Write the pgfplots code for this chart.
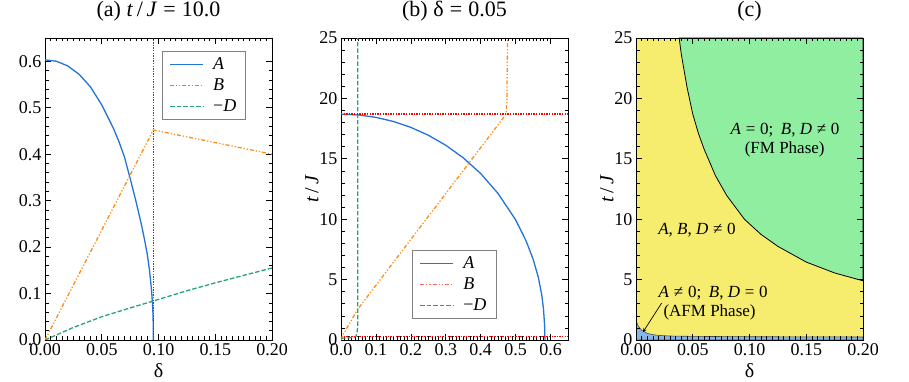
\documentclass[border=0pt]{standalone}
\usepackage{fontspec}
\setmainfont{Liberation Serif}
\usepackage{pgfplots}
\pgfplotsset{compat=1.18}

\definecolor{cA}{RGB}{35,115,220}
\definecolor{cB}{RGB}{255,140,20}
\definecolor{cBleg}{RGB}{250,105,90}
\definecolor{cD}{RGB}{40,165,110}
\definecolor{cR}{RGB}{255,0,0}
\definecolor{fY}{RGB}{246,236,110}
\definecolor{fG}{RGB}{144,238,160}
\definecolor{fB}{RGB}{135,180,230}
\newcommand\rel[1]{\hspace{0.28em}#1\hspace{0.28em}}

\pgfplotsset{
  panel/.style={
    scale only axis, width=227pt, height=302pt,
    tick align=inside, major tick length=6pt, minor tick length=3.5pt,
    every tick/.style={black, line width=0.6pt},
    axis line style={line width=0.8pt},
    tick label style={font=\fontsize{18}{20}\selectfont},
    /pgf/number format/assume math mode=true,
    title style={font=\fontsize{22}{24}\selectfont, at={(axis description cs:0.5,1.07)}, anchor=center},
    label style={font=\fontsize{20}{22}\selectfont},
    xlabel style={at={(axis description cs:0.5,-0.103)}, anchor=center},
    ylabel style={at={(axis description cs:-0.128,0.5)}, anchor=center},
    legend cell align=left,
    legend style={draw=gray, line width=0.9pt, font=\fontsize{18}{20}\selectfont,
      row sep=2.5pt, inner xsep=7pt, inner ysep=4pt,
      nodes={inner sep=2.5pt},
      /tikz/every odd column/.append style={column sep=7pt}},
    legend image code/.code={\draw[#1] (0pt,0pt) -- (33pt,0pt);},
  },
  dashdd/.style={line width=1.3pt, dash pattern=on 4pt off 2pt on 1.2pt off 2pt on 1.2pt off 2pt},
  dsh/.style={line width=1.3pt, dash pattern=on 4.5pt off 2pt},
  dtd/.style={line width=1.3pt, dash pattern=on 1.3pt off 1.3pt},
  sld/.style={line width=1.3pt},
}

\begin{document}
\begin{tikzpicture}
\useasboundingbox (0,0) rectangle (909pt,382pt);

% (a)
\begin{axis}[panel, at={(45pt,42pt)}, anchor=south west,
  xmin=0, xmax=0.2, ymin=0, ymax=0.65,
  xtick={0,0.05,0.1,0.15,0.2}, ytick={0,0.1,...,0.6},
  minor x tick num=9, minor y tick num=4,
  xticklabel style={/pgf/number format/.cd, fixed, fixed zerofill, precision=2},
  yticklabel style={/pgf/number format/.cd, fixed, fixed zerofill, precision=1},
  title={(a) \textit{t}\,/\,\textit{J}\rel{=}10.0}, xlabel={δ},
  legend style={at={(rel axis cs:0.515,0.957)}, anchor=north west},
]
\addplot[cA, sld, forget plot] coordinates {
 (0,0.603) (0.01,0.600) (0.02,0.590) (0.03,0.572) (0.04,0.545) (0.05,0.506)
 (0.06,0.457) (0.065,0.428) (0.07,0.394) (0.075,0.348) (0.08,0.300)
 (0.085,0.248) (0.088,0.212) (0.09,0.186) (0.092,0.152) (0.094,0.104)
 (0.095,0.065) (0.0953,0.04) (0.0955,0)};
\addplot[cB, dashdd, forget plot] coordinates {
 (0,0) (0.0955,0.452) (0.2,0.400)};
\addplot[cD, dsh, forget plot] coordinates {
 (0,0) (0.025,0.027) (0.05,0.050) (0.075,0.069) (0.0955,0.084)
 (0.125,0.106) (0.15,0.123) (0.175,0.139) (0.2,0.155)};
\addplot[color=cR, dtd, forget plot] coordinates {
 (0.0957,0) (0.0957,0.65)};
\addlegendimage{color=cA, sld}
\addlegendimage{color=cBleg, dashdd}
\addlegendimage{color=cD, dsh}
\legend{\textit{A}, \textit{B}, −\textit{D}}
\end{axis}

% (b)
\begin{axis}[panel, at={(341pt,42pt)}, anchor=south west,
  xmin=0, xmax=0.65, ymin=0, ymax=25,
  xtick={0,0.1,...,0.6}, ytick={0,5,...,25},
  minor x tick num=9, minor y tick num=4,
  xticklabel style={/pgf/number format/.cd, fixed, fixed zerofill, precision=1},
  title={(b) δ\rel{=}0.05}, ylabel={\textit{t}\,/\,\textit{J}},
  legend style={at={(rel axis cs:0.313,0.07)}, anchor=south west},
]
\addplot[cA, sld, forget plot] coordinates {
 (0,18.7) (0.05,18.63) (0.1,18.43) (0.15,18.09) (0.2,17.6) (0.25,16.95)
 (0.3,16.12) (0.35,15.08) (0.4,13.78) (0.45,12.12) (0.5,9.95) (0.53,8.2)
 (0.55,6.7) (0.565,5.2) (0.575,3.7) (0.58,2.5) (0.583,1.2) (0.584,0)};
\addplot[cB, dashdd, forget plot] coordinates {
 (0,0) (0.005,0.4) (0.048,2.55) (0.473,18.7) (0.475,20) (0.477,25)};
\addplot[cD, dsh, forget plot] coordinates {
 (0,0.15) (0.035,0.2) (0.043,0.3) (0.046,0.6) (0.048,1.2) (0.048,25)};
\addplot[color=cR, dtd, forget plot] coordinates {
 (0,18.7) (0.65,18.7)};
\addplot[color=cR, dtd, forget plot] coordinates {
 (0,0.3) (0.65,0.3)};
\addlegendimage{color=cA, sld}
\addlegendimage{color=cBleg, dashdd}
\addlegendimage{color=cD, dsh}
\legend{\textit{A}, \textit{B}, −\textit{D}}
\end{axis}

% (c)
\begin{axis}[panel, at={(636pt,42pt)}, anchor=south west,
  xmin=0, xmax=0.2, ymin=0, ymax=25, axis on top,
  xtick={0,0.05,0.1,0.15,0.2}, ytick={0,5,...,25},
  minor x tick num=9, minor y tick num=4,
  xticklabel style={/pgf/number format/.cd, fixed, fixed zerofill, precision=2},
  title={(c)}, xlabel={δ}, ylabel={\textit{t}\,/\,\textit{J}},
]
\addplot[draw=none, fill=fY] coordinates {(0,0) (0.2,0) (0.2,25) (0,25)} -- cycle;
\addplot[black, line width=0.8pt, fill=fG] coordinates {
 (0.038,25) (0.04,23.6) (0.045,20.9) (0.05,18.7) (0.055,17.1) (0.06,15.8)
 (0.07,13.6) (0.08,11.95) (0.0955,10.0) (0.11,8.75) (0.125,7.75)
 (0.15,6.45) (0.175,5.55) (0.2,4.9) (0.2,25)} -- cycle;
\addplot[black!70, line width=0.6pt, fill=fB] coordinates {
 (0,0) (0,1.6) (0.002,1.15) (0.005,0.8) (0.01,0.55) (0.015,0.44) (0.02,0.38)
 (0.03,0.33) (0.05,0.3) (0.1,0.27) (0.15,0.26) (0.2,0.25) (0.2,0)} -- cycle;
\node[font=\fontsize{17}{19}\selectfont] at (axis cs:0.1313,17.4) {\textit{A}\rel{=}0;\hspace{0.45em}\textit{B}, \textit{D}\rel{≠}0};
\node[font=\fontsize{17}{19}\selectfont] at (axis cs:0.131,15.8) {(FM Phase)};
\node[font=\fontsize{17}{19}\selectfont] at (axis cs:0.0537,9.1) {\textit{A}, \textit{B}, \textit{D}\rel{≠}0};
\node[font=\fontsize{17}{19}\selectfont] at (axis cs:0.068,3.9) {\textit{A}\rel{≠}0;\hspace{0.45em}\textit{B}, \textit{D}\rel{=}0};
\node[font=\fontsize{17}{19}\selectfont] at (axis cs:0.0648,2.3) {(AFM Phase)};
\draw[-stealth, line width=0.7pt] (axis cs:0.0226,3.06) -- (axis cs:0.0062,0.66);
\end{axis}
\end{tikzpicture}
\end{document}
